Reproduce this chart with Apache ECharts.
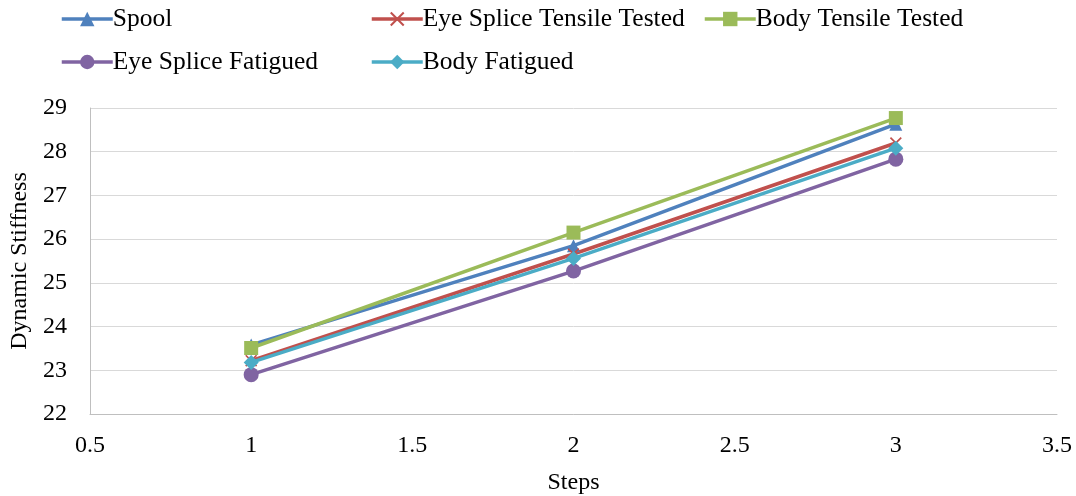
<!DOCTYPE html>
<html>
<head>
<meta charset="utf-8">
<script src="https://cdn.jsdelivr.net/npm/echarts@6/dist/echarts.min.js"></script>
<style>html,body{margin:0;padding:0;background:#fff}#chart{width:1076px;height:496px}</style>
</head>
<body>
<div id="chart"></div>
<script>
const steps = [1, 2, 3]
const spool = [23.58, 25.85, 28.63]
const eyeSpliceTensile = [23.22, 25.66, 28.2]
const bodyTensile = [23.51, 26.15, 28.77]
const eyeSpliceFatigued = [22.9, 25.27, 27.83]
const bodyFatigued = [23.18, 25.56, 28.08]

const font = 'Liberation Serif'
const cross = 'path://M0,1L1,0L5,4L9,0L10,1L6,5L10,9L9,10L5,6L1,10L0,9L4,5Z'

const seriesDefs = [
  { name: 'Spool', data: spool, color: '#4F81BD', symbol: 'triangle', size: 13 },
  { name: 'Eye Splice Tensile Tested', data: eyeSpliceTensile, color: '#C0504D', symbol: cross, size: 12 },
  { name: 'Body Tensile Tested', data: bodyTensile, color: '#9BBB59', symbol: 'rect', size: 14 },
  { name: 'Eye Splice Fatigued', data: eyeSpliceFatigued, color: '#8064A2', symbol: 'circle', size: 15 },
  { name: 'Body Fatigued', data: bodyFatigued, color: '#4BACC6', symbol: 'diamond', size: 15 }
]

// legend positions (one legend per item, two rows)
const legendPos = [[60, 6], [370, 6], [703, 6], [60, 49], [370, 49]]

const labelText = { fontFamily: font, fontSize: 24, color: '#000' }

const chart = echarts.init(document.getElementById('chart'))
chart.setOption({
  animation: false,
  textStyle: { fontFamily: font },
  legend: seriesDefs.map((s, i) => ({
    data: [s.name],
    left: legendPos[i][0],
    top: legendPos[i][1],
    padding: 0,
    itemWidth: 51,
    itemHeight: 18,
    itemGap: 0,
    lineStyle: { width: 3.5 },
    textStyle: { fontFamily: font, fontSize: 25.5, color: '#000', padding: [0, 0, 0, -5] }
  })),
  grid: { left: 90, right: 19, top: 108, bottom: 82, outerBoundsMode: 'none', containLabel: false },
  xAxis: {
    type: 'value',
    min: 0.5,
    max: 3.5,
    interval: 0.5,
    name: 'Steps',
    nameLocation: 'middle',
    nameGap: 57,
    nameTextStyle: labelText,
    axisLine: { show: true, lineStyle: { color: '#bfbfbf' } },
    axisTick: { show: false },
    splitLine: { show: false },
    axisLabel: Object.assign({ margin: 20 }, labelText)
  },
  yAxis: {
    type: 'value',
    min: 22,
    max: 29,
    interval: 1,
    name: 'Dynamic Stiffness',
    nameLocation: 'middle',
    nameGap: 50,
    nameTextStyle: labelText,
    axisLine: { show: true, lineStyle: { color: '#bfbfbf' } },
    axisTick: { show: false },
    splitLine: { show: true, lineStyle: { color: '#d9d9d9' } },
    axisLabel: Object.assign({ margin: 23 }, labelText)
  },
  series: seriesDefs.map(s => ({
    name: s.name,
    type: 'line',
    data: steps.map((x, i) => [x, s.data[i]]),
    symbol: s.symbol,
    symbolSize: s.size,
    showAllSymbol: true,
    lineStyle: { color: s.color, width: 3.5 },
    itemStyle: { color: s.color },
    emphasis: { disabled: true }
  }))
})
</script>
</body>
</html>
